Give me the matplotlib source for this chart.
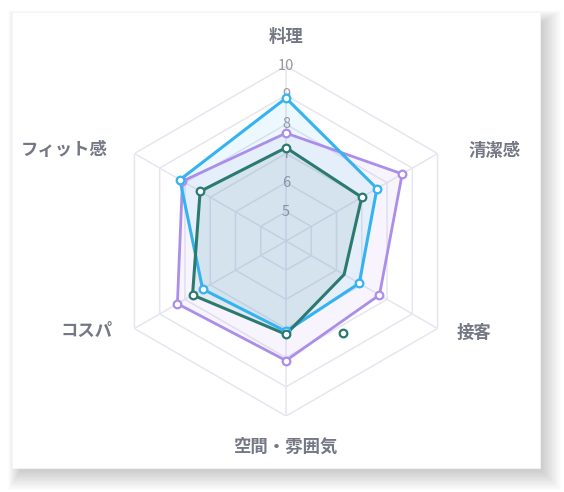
import numpy as np
import matplotlib
matplotlib.use("Agg")
import matplotlib.pyplot as plt
from matplotlib.patches import Rectangle

plt.rcParams['font.family'] = ['Noto Sans CJK JP', 'DejaVu Sans']

# data
labels = ["料理", "清潔感", "接客", "空間・雰囲気", "コスパ", "フィット感"]
ticks = [5, 6, 7, 8, 9, 10]
blue_vals = [8.9, 7.6, 6.9, 7.1, 7.3, 8.2]
purple_vals = [7.7, 8.6, 7.7, 8.1, 8.3, 8.1]
green_vals = [7.2, 7.0, 6.3, 7.2, 7.7, 7.4]
green_stray = [148, 7.7]   # loose marker (deg clockwise from top, value)

W, H = 564, 492
fig = plt.figure(figsize=(W / 100, H / 100), dpi=100)
fig.patch.set_facecolor("white")

def px_rect(x0, y0, x1, y1, **kw):
    # rectangle in pixel coords (y from top)
    return Rectangle((x0 / W, 1 - y1 / H), (x1 - x0) / W, (y1 - y0) / H,
                     transform=fig.transFigure, **kw)

# card with soft shadow
for i in range(24):
    g = 24 - i
    fig.add_artist(px_rect(12 + 8 - g * 0.5, 12 + 10 - g * 0.5, 540 + 2 + g * 0.8, 468 + 3 + g * 0.8,
                           facecolor="black", edgecolor="none", alpha=0.006, zorder=-20))
fig.add_artist(px_rect(12, 12, 540, 468, facecolor="white", edgecolor="#f4f4f6", lw=0.6, zorder=-10))

cx, cy, R = 286, 241, 175
ax = fig.add_axes([(cx - R) / W, (H - cy - R) / H, 2 * R / W, 2 * R / H], projection="polar")
ax.set_theta_offset(np.pi / 2)
ax.set_theta_direction(-1)
ax.set_ylim(4, 10)
ax.patch.set_visible(False)
ax.spines["polar"].set_visible(False)
ax.grid(False)
ax.set_xticks([])
ax.set_yticks([])

n = len(labels)
angles = np.arange(n) * 2 * np.pi / n
closed = np.append(angles, angles[0])

grid_col = "#e6e6ef"
for t in ticks:
    ax.plot(closed, [t] * (n + 1), color=grid_col, lw=1.1, zorder=1)
for a in angles:
    ax.plot([a, a], [4, 10], color=grid_col, lw=1.1, zorder=1)

for t in ticks:
    ax.text(0, t, str(t), ha="center", va="center", fontsize=10.5, color="#96979f", zorder=2)

series = [
    (purple_vals, "#ab8eea", 2.0),
    (blue_vals, "#35b3f0", 2.2),
    (green_vals, "#2b7a70", 2.2),
]
for vals, col, lw in series:
    v = np.append(vals, vals[0])
    ax.fill(closed, v, color=col, alpha=0.09, zorder=3)
    ax.plot(closed, v, color=col, lw=lw, zorder=4)
    mk = [i for i in range(n) if not (col == "#2b7a70" and i == 2)]
    ax.plot(angles[mk], np.array(vals)[mk], ls="none", marker="o", ms=5.5,
            mfc="white", mec=col, mew=1.6, zorder=5)

ax.plot([np.deg2rad(green_stray[0])], [green_stray[1]], ls="none", marker="o", ms=5.5,
        mfc="white", mec="#2b7a70", mew=1.6, zorder=5)

# axis labels
offsets = [(0, 29, "center"), (31, 3, "left"), (19, -4, "left"),
           (0, -31, "center"), (-22, -2, "right"), (-27, 3, "right")]
for a, lab, (dx, dy, ha) in zip(angles, labels, offsets):
    ax.annotate(lab, xy=(a, 10), xytext=(dx, dy), textcoords="offset pixels",
                ha=ha, va="center", fontsize=12.5, fontweight="bold", color="#747784",
                annotation_clip=False)

fig.savefig("out.png", dpi=100)
